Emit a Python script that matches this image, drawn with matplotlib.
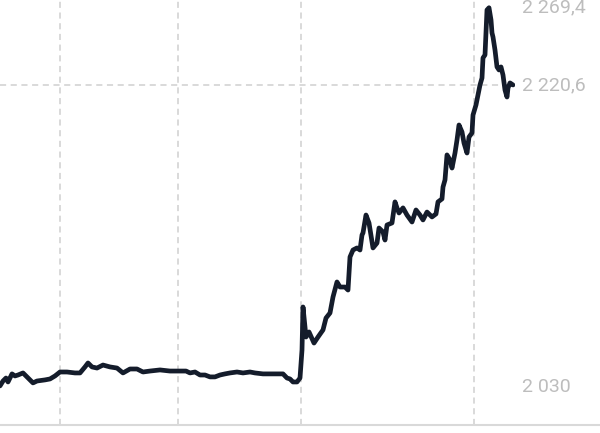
import matplotlib
matplotlib.use("Agg")
import matplotlib.pyplot as plt

# time index (arbitrary units) and price values
t = [0, 3, 6, 8, 12, 15, 18, 23, 27, 33, 37, 45, 50, 55, 60, 67, 75, 80, 85, 88,
     92, 97, 103, 110, 117, 123, 130, 137, 143, 150, 160, 170, 186, 190, 195, 200,
     205, 210, 215, 220, 225, 230, 237, 243, 250, 255, 263, 270, 277, 283, 287, 290,
     293, 297, 300, 302, 303, 306, 309, 314, 318, 323, 326, 330, 333, 337, 340, 345,
     348, 350, 353, 357, 360, 362, 363, 366, 369, 373, 377, 379, 383, 385, 387, 392,
     395, 397, 399, 403, 407, 412, 416, 420, 423, 427, 432, 436, 438, 442, 443, 445,
     447, 450, 452, 455, 457, 459, 462, 464, 467, 469, 472, 473, 476, 478, 480, 482,
     483, 485, 486, 487, 489, 491, 492, 493, 495, 497, 499, 501, 503, 505, 507, 508,
     510, 513]
price = [2030.4, 2033.5, 2035.4, 2032.9, 2038.0, 2036.7, 2037.3, 2038.6, 2036.1, 2032.3,
         2033.5, 2034.2, 2034.8, 2036.7, 2039.2, 2039.2, 2038.6, 2038.6, 2042.4, 2044.9,
         2042.4, 2041.7, 2043.6, 2042.4, 2041.7, 2038.6, 2041.1, 2041.1, 2039.2, 2039.8,
         2040.5, 2039.8, 2039.8, 2038.6, 2039.2, 2037.3, 2037.3, 2036.1, 2036.1, 2037.3,
         2038.0, 2038.6, 2039.2, 2038.6, 2039.2, 2038.6, 2038.0, 2038.0, 2038.0, 2038.0,
         2035.4, 2034.8, 2032.9, 2032.9, 2035.4, 2053.1, 2080.3, 2061.3, 2064.5, 2057.5,
         2061.3, 2065.8, 2073.3, 2076.5, 2086.6, 2096.1, 2092.9, 2092.9, 2091.0, 2111.9,
         2116.3, 2117.6, 2116.3, 2125.8, 2127.1, 2138.4, 2133.4, 2117.6, 2120.7, 2130.2,
         2127.7, 2122.6, 2132.1, 2133.4, 2146.7, 2142.9, 2139.7, 2142.9, 2138.4, 2134.0,
         2141.6, 2138.4, 2135.3, 2140.3, 2137.2, 2139.1, 2146.7, 2148.6, 2156.1, 2160.6,
         2176.4, 2173.2, 2168.1, 2177.6, 2185.8, 2195.3, 2190.9, 2183.9, 2177.6, 2187.7,
         2190.3, 2201.6, 2208.0, 2214.3, 2220.6, 2225.0, 2237.7, 2239.6, 2253.5, 2268.0,
         2269.4, 2261.7, 2253.5, 2250.9, 2242.7, 2232.0, 2230.1, 2232.0, 2226.9, 2217.4,
         2213.0, 2218.7, 2221.9, 2220.6]

v_grid_t = [60, 178, 301, 474]
label_values = [2269.4, 2220.6, 2030]
label_texts = ["2 269,4", "2 220,6", "2 030"]
last_value = 2220.6

plt.rcParams['font.family'] = ['Roboto', 'DejaVu Sans']

fig = plt.figure(figsize=(6.0, 4.33), dpi=100)
ax = fig.add_axes([0, 8 / 433, 515 / 600, 425 / 433])
ax.set_xlim(0, 515)
ax.set_ylim(2005.7, 2274.3)

for x in v_grid_t:
    ax.axvline(x, color="#cfcfcf", lw=1.1, ls=(0, (4, 3)), zorder=1)
ax.axhline(last_value, color="#cfcfcf", lw=1.1, ls=(0, (4, 3)), zorder=1)

ax.plot(t, price, color="#141c2b", lw=3.4, solid_joinstyle="round",
        solid_capstyle="round", zorder=3)

for v, s in zip(label_values, label_texts):
    ax.text(522, v, s, color="#bdbdbd", fontsize=14, va="center", ha="left",
            clip_on=False)

for sp in ["top", "right", "left", "bottom"]:
    ax.spines[sp].set_visible(False)
ax.set_xticks([])
ax.set_yticks([])

fig.add_artist(plt.Line2D([0, 1], [8 / 433, 8 / 433], color="#d9d9d9", lw=1.5,
                          transform=fig.transFigure))

fig.savefig("out.png", dpi=100, facecolor="white")
